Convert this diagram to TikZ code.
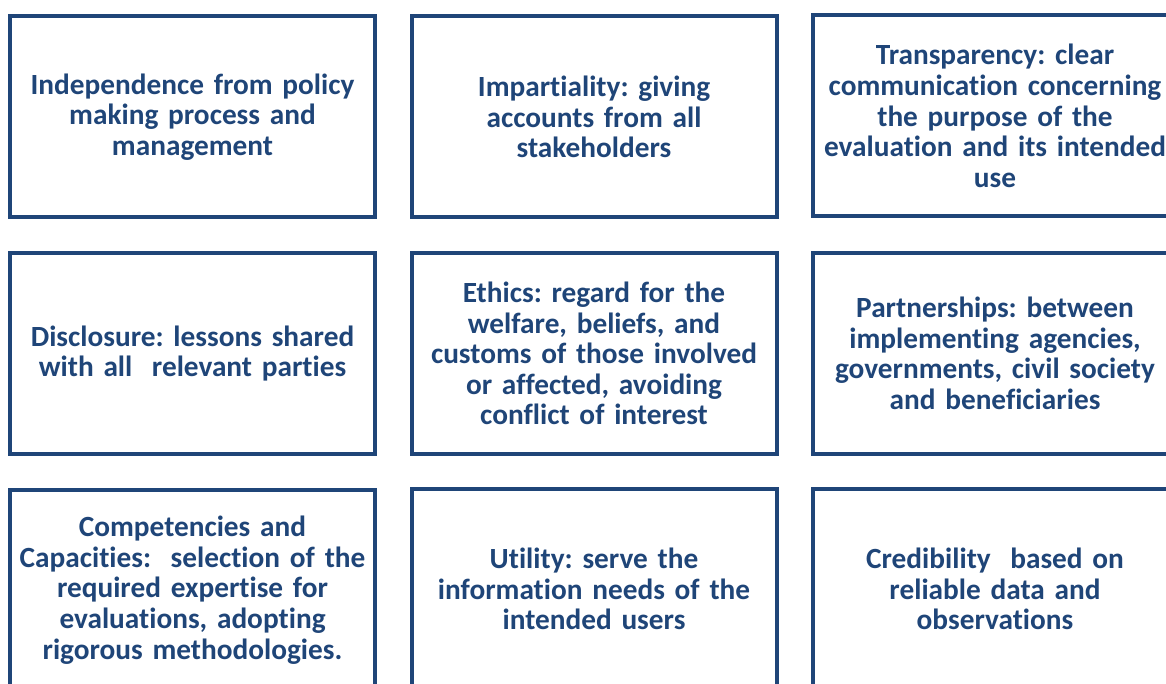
\documentclass[tikz,border=0pt]{standalone}
\usepackage{fontspec}
\setmainfont{Carlito}[Ligatures=NoCommon]
\definecolor{boxblue}{HTML}{1F4578}
\frenchspacing

\begin{document}
\begin{tikzpicture}[x=1pt,y=-1pt,
    principle/.style={draw=boxblue,line width=4pt,minimum width=365pt,minimum height=201pt,
        text width=360pt,align=center,text=boxblue,inner sep=0pt,
        font=\fontsize{29.3}{30.6}\selectfont\bfseries}]
    \useasboundingbox (0,0) rectangle (1166,684);
    \clip (0,0) rectangle (1166,684);
    % first row
    \node[principle] (indep) at (192.5,117) {Independence from policy\\making process and\\management};
    \node[principle] (impart) at (594,117) {Impartiality: giving\\accounts from all\\stakeholders};
    \node[principle] (transp) at (995,116) {Transparency: clear\\communication concerning\\the purpose of the\\evaluation and its intended\\use};
    % second row
    \node[principle] (disclo) at (192.5,353.5) {Disclosure: lessons shared\\with all\ \ relevant parties};
    \node[principle] (ethics) at (594,353.5) {Ethics: regard for the\\welfare, beliefs, and\\customs of those involved\\or affected, avoiding\\conflict of interest};
    \node[principle] (partner) at (995,353.5) {Partnerships: between\\implementing agencies,\\governments, civil society\\and beneficiaries};
    % third row
    \node[principle] (compet) at (192.5,590) {Competencies and\\Capacities:\ \ selection of the\\required expertise for\\evaluations, adopting\\rigorous methodologies.};
    \node[principle] (util) at (594,589) {Utility: serve the\\information needs of the\\intended users};
    \node[principle] (cred) at (995,589) {Credibility\ \ based on\\reliable data and\\observations};
\end{tikzpicture}
\end{document}
